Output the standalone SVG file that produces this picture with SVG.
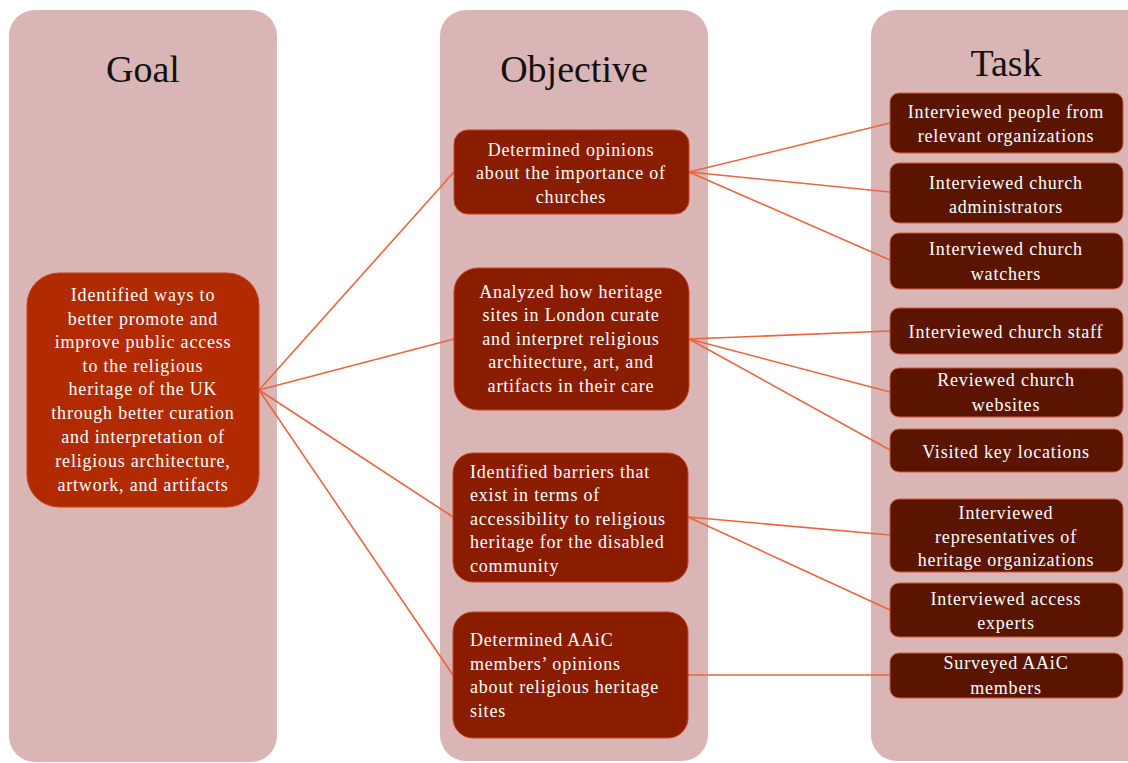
<svg xmlns="http://www.w3.org/2000/svg" width="1128" height="763" viewBox="0 0 1128 763">
<style>
.col{fill:#D9B5B5}
.title{font-family:"Liberation Serif",serif;font-size:38px;fill:#111;text-anchor:middle}
.t{font-family:"Liberation Serif",serif;font-size:18px;fill:#fff;letter-spacing:0.8px}
.c{text-anchor:middle}
.goal{fill:#B22A00;stroke:#C8431E;stroke-width:1}
.obj{fill:#8A1C00;stroke:#C8431E;stroke-width:1}
.task{fill:#5A1400;stroke:#D25A32;stroke-width:1}
.conn line{stroke:#E8663F;stroke-width:1.6}
</style>
<rect width="1128" height="763" fill="#fff"/>
<g id="columns">
<rect class="col" x="9" y="10" width="268" height="752" rx="26"/>
<rect class="col" x="440" y="10" width="268" height="751" rx="26"/>
<rect class="col" x="871" y="10" width="290" height="751" rx="26"/>
<text class="title" x="143" y="82">Goal</text>
<text class="title" x="574" y="82">Objective</text>
<text class="title" x="1006" y="76">Task</text>
</g>
<g id="connectors" class="conn">
<line x1="259" y1="390" x2="454" y2="172"/>
<line x1="259" y1="390" x2="454" y2="339"/>
<line x1="259" y1="390" x2="453" y2="517"/>
<line x1="259" y1="390" x2="453" y2="675"/>
<line x1="689" y1="172" x2="890" y2="123"/>
<line x1="689" y1="172" x2="890" y2="192"/>
<line x1="689" y1="172" x2="890" y2="260"/>
<line x1="689" y1="339" x2="890" y2="331"/>
<line x1="689" y1="339" x2="890" y2="392"/>
<line x1="689" y1="339" x2="890" y2="450"/>
<line x1="688" y1="517" x2="890" y2="535"/>
<line x1="688" y1="517" x2="890" y2="610"/>
<line x1="688" y1="675" x2="890" y2="675"/>
</g>
<g id="goal">
<rect class="goal" x="27" y="273" width="232" height="234" rx="32"/>
<text class="t c" x="143" y="301">Identified ways to</text>
<text class="t c" x="143" y="325">better promote and</text>
<text class="t c" x="143" y="348">improve public access</text>
<text class="t c" x="143" y="372">to the religious</text>
<text class="t c" x="143" y="395">heritage of the UK</text>
<text class="t c" x="143" y="419">through better curation</text>
<text class="t c" x="143" y="443">and interpretation of</text>
<text class="t c" x="143" y="467">religious architecture,</text>
<text class="t c" x="143" y="491">artwork, and artifacts</text>
</g>
<g id="obj1">
<rect class="obj" x="454" y="130" width="235" height="84" rx="14"/>
<text class="t c" x="571" y="156">Determined opinions</text>
<text class="t c" x="571" y="179">about the importance of</text>
<text class="t c" x="571" y="203">churches</text>
</g>
<g id="obj2">
<rect class="obj" x="454" y="268" width="235" height="142" rx="24"/>
<text class="t c" x="571" y="298">Analyzed how heritage</text>
<text class="t c" x="571" y="321">sites in London curate</text>
<text class="t c" x="571" y="345">and interpret religious</text>
<text class="t c" x="571" y="368">architecture, art, and</text>
<text class="t c" x="571" y="392">artifacts in their care</text>
</g>
<g id="obj3">
<rect class="obj" x="453" y="453" width="235" height="129" rx="20"/>
<text class="t" x="470" y="478">Identified barriers that</text>
<text class="t" x="470" y="501">exist in terms of</text>
<text class="t" x="470" y="525">accessibility to religious</text>
<text class="t" x="470" y="548">heritage for the disabled</text>
<text class="t" x="470" y="572">community</text>
</g>
<g id="obj4">
<rect class="obj" x="453" y="612" width="235" height="126" rx="20"/>
<text class="t" x="470" y="646">Determined AAiC</text>
<text class="t" x="470" y="670">members’ opinions</text>
<text class="t" x="470" y="693">about religious heritage</text>
<text class="t" x="470" y="717">sites</text>
</g>
<g id="task1">
<rect class="task" x="890" y="93" width="233" height="60" rx="9"/>
<text class="t c" x="1006" y="118">Interviewed people from</text>
<text class="t c" x="1006" y="142">relevant organizations</text>
</g>
<g id="task2">
<rect class="task" x="890" y="163" width="233" height="60" rx="9"/>
<text class="t c" x="1006" y="189">Interviewed church</text>
<text class="t c" x="1006" y="213">administrators</text>
</g>
<g id="task3">
<rect class="task" x="890" y="233" width="233" height="56" rx="9"/>
<text class="t c" x="1006" y="255">Interviewed church</text>
<text class="t c" x="1006" y="280">watchers</text>
</g>
<g id="task4">
<rect class="task" x="890" y="308" width="233" height="46" rx="9"/>
<text class="t c" x="1006" y="338">Interviewed church staff</text>
</g>
<g id="task5">
<rect class="task" x="890" y="368" width="233" height="49" rx="9"/>
<text class="t c" x="1006" y="386">Reviewed church</text>
<text class="t c" x="1006" y="411">websites</text>
</g>
<g id="task6">
<rect class="task" x="890" y="429" width="233" height="43" rx="9"/>
<text class="t c" x="1006" y="458">Visited key locations</text>
</g>
<g id="task7">
<rect class="task" x="890" y="499" width="233" height="73" rx="9"/>
<text class="t c" x="1006" y="519">Interviewed</text>
<text class="t c" x="1006" y="543">representatives of</text>
<text class="t c" x="1006" y="566">heritage organizations</text>
</g>
<g id="task8">
<rect class="task" x="890" y="583" width="233" height="54" rx="9"/>
<text class="t c" x="1006" y="605">Interviewed access</text>
<text class="t c" x="1006" y="629">experts</text>
</g>
<g id="task9">
<rect class="task" x="890" y="653" width="233" height="45" rx="9"/>
<text class="t c" x="1006" y="669">Surveyed AAiC</text>
<text class="t c" x="1006" y="694">members</text>
</g>
</svg>
